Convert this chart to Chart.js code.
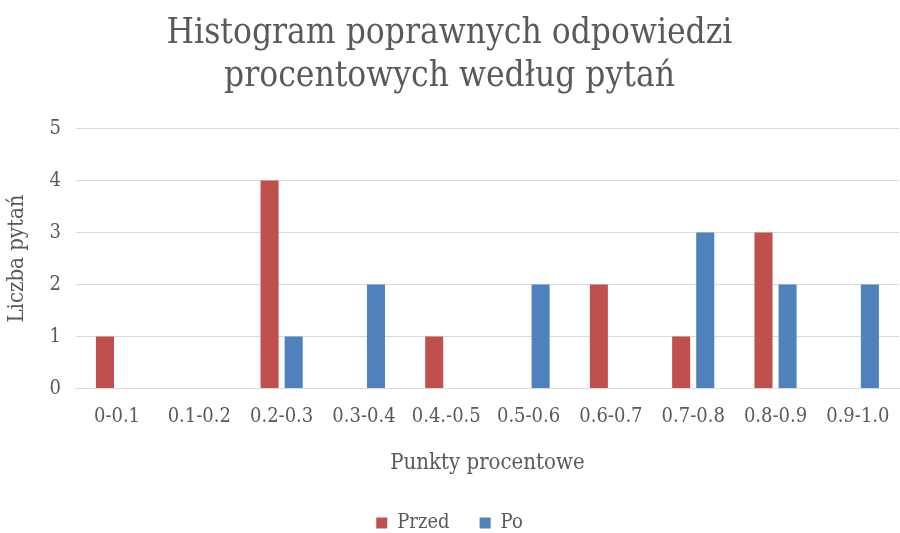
<!DOCTYPE html>
<html>
<head>
<meta charset="utf-8">
<script src="https://cdn.jsdelivr.net/npm/chart.js@4"></script>
<style>
  html, body { margin: 0; padding: 0; background: #fff; }
  #wrap { width: 900px; height: 533px; }
</style>
</head>
<body>
<div id="wrap"><canvas id="chart" width="900" height="533"></canvas></div>
<script>
// data
const categories = ['0-0.1', '0.1-0.2', '0.2-0.3', '0.3-0.4', '0.4.-0.5', '0.5-0.6', '0.6-0.7', '0.7-0.8', '0.8-0.9', '0.9-1.0'];
const przedValues = [1, 0, 4, 0, 1, 0, 2, 1, 3, 0];
const poValues = [0, 0, 1, 2, 0, 2, 0, 3, 2, 2];
const titleLines = ['Histogram poprawnych odpowiedzi', 'procentowych według pytań'];

const FONT = "'DejaVu Serif Condensed', 'Liberation Serif', serif";
const GREY = '#595959';

new Chart(document.getElementById('chart'), {
  type: 'bar',
  data: {
    labels: categories,
    datasets: [
      { label: 'Przed', data: przedValues, backgroundColor: '#c0504d' },
      { label: 'Po', data: poValues, backgroundColor: '#4f81bd' }
    ]
  },
  options: {
    responsive: false,
    animation: false,
    categoryPercentage: 0.585,
    barPercentage: 0.75,
    layout: { padding: { left: 0, right: 1, top: 0, bottom: -10 } },
    plugins: {
      title: {
        display: true,
        text: titleLines,
        color: GREY,
        font: { family: FONT, size: 35, weight: 'normal', lineHeight: 1.22 },
        padding: { top: 13, bottom: 30 }
      },
      legend: {
        position: 'bottom',
        labels: {
          color: GREY,
          font: { family: FONT, size: 20 },
          boxWidth: 11,
          boxHeight: 11,
          padding: 30
        }
      },
      tooltip: { enabled: false }
    },
    scales: {
      x: {
        grid: { display: false },
        border: { color: '#d9d9d9' },
        ticks: { color: GREY, font: { family: FONT, size: 20 }, maxRotation: 0, autoSkip: false, padding: 8 },
        title: {
          display: true,
          text: 'Punkty procentowe',
          color: GREY,
          font: { family: FONT, size: 22 },
          padding: { top: 13, bottom: 7 }
        }
      },
      y: {
        min: 0,
        max: 5,
        ticks: { stepSize: 1, color: GREY, font: { family: FONT, size: 20 }, padding: 15 },
        grid: { color: '#d9d9d9', drawTicks: false },
        border: { display: false },
        title: {
          display: true,
          text: 'Liczba pytań',
          color: GREY,
          font: { family: FONT, size: 22 },
          padding: { bottom: 4 }
        }
      }
    }
  }
});
</script>
</body>
</html>
